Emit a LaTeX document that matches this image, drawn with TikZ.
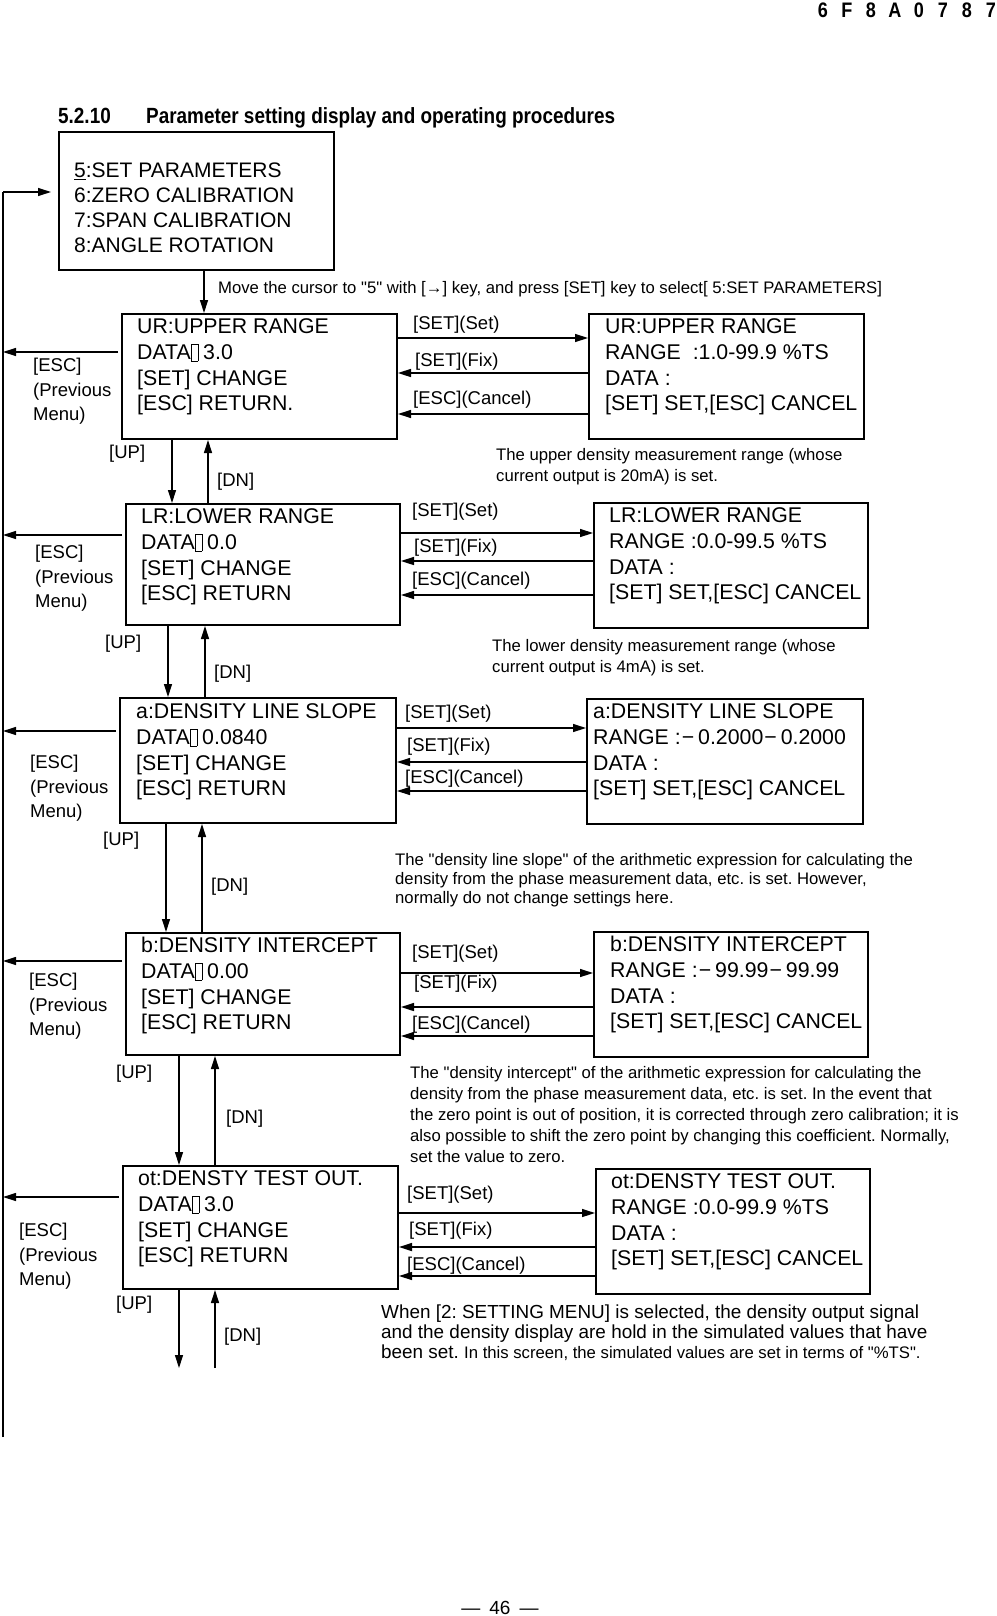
\documentclass[tikz,border=0pt]{standalone}
\usepackage{fontspec}
\setmainfont{Liberation Sans}[Ligatures=TeXOff]
\newfontfamily\condfont[FakeStretch=0.86]{Liberation Sans}
\usetikzlibrary{arrows.meta,calc}
\frenchspacing
% glyph the display could not print
\newcommand{\nochar}{\kern0.5pt\raisebox{-1.5pt}{\setlength{\fboxsep}{0pt}\setlength{\fboxrule}{0.7pt}\fbox{\rule{0pt}{16pt}\hspace{5.5pt}}}\hspace{5pt}}
\tikzset{
  scr/.style={draw, line width=2pt, anchor=north west, inner sep=0pt},
  scrtext/.style={anchor=base west, align=left, inner sep=0pt, font={\fontsize{21.3}{25.8}\selectfont}},
  keylbl/.style={anchor=base west, inner sep=0pt, font={\fontsize{18.5}{22}\selectfont}},
  esclbl/.style={anchor=base west, align=left, inner sep=0pt, font={\fontsize{18.5}{24.5}\selectfont}},
  note/.style={anchor=base west, align=left, inner sep=0pt, font={\fontsize{16.7}{21}\selectfont}},
  go/.style={line width=1.2pt, -{Triangle[length=13pt,width=8pt]}},
}
\begin{document}
\begin{tikzpicture}[x=1pt,y=-1pt]
			\useasboundingbox (0,0) rectangle (996,1616);
			% page head
			\foreach \c [count=\i from 0] in {6,F,8,A,0,7,8,7}{
				\node[font={\condfont\bfseries\fontsize{21}{21}\selectfont}, inner sep=0pt] (hd\i) at (823+24*\i,10) {\c};
			}
			\node[anchor=base west, inner sep=0pt, font={\condfont\bfseries\fontsize{22}{22}\selectfont}] (secno) at (58,124) {5.2.10};
			\node[anchor=base west, inner sep=0pt, font={\condfont\bfseries\fontsize{22}{22}\selectfont}] (title) at (146,124) {Parameter setting display and operating procedures};
			% menu
			\node[scr, minimum width=275, minimum height=138] (top) at (58,131) {};
			\node[scrtext, font={\fontsize{21}{25}\selectfont}] (toptext) at (74,252.5) {\underline{5}:SET PARAMETERS\\6:ZERO CALIBRATION\\7:SPAN CALIBRATION\\8:ANGLE ROTATION};
			\node[note] (movenote) at (218,293) {Move the cursor to "5" with [→] key, and press [SET] key to select[ 5:SET PARAMETERS]};
			% screens, left column
			\node[scr, minimum width=275, minimum height=125] (ur) at (121,313) {};
			\node[scr, minimum width=274, minimum height=121] (lr) at (125,503) {};
			\node[scr, minimum width=276, minimum height=125] (sl) at (119,697) {};
			\node[scr, minimum width=274, minimum height=122] (ic) at (125,932) {};
			\node[scr, minimum width=275, minimum height=123] (ot) at (122,1165) {};
			% screens, right column
			\node[scr, minimum width=275, minimum height=125] (urr) at (588,313) {};
			\node[scr, minimum width=274, minimum height=125] (lrr) at (593,502) {};
			\node[scr, minimum width=276, minimum height=125] (slr) at (586,698) {};
			\node[scr, minimum width=274, minimum height=125] (icr) at (593,931) {};
			\node[scr, minimum width=274, minimum height=125] (otr) at (595,1168) {};
			% screen texts (base = last line)
			\node[scrtext] (urtext) at ([shift={(16,97.9)}]ur.north west) {UR:UPPER RANGE\\DATA\nochar 3.0\\{[SET]} CHANGE\\{[ESC]} RETURN.};
			\node[scrtext] (lrtext) at ([shift={(16,97.9)}]lr.north west) {LR:LOWER RANGE\\DATA\nochar 0.0\\{[SET]} CHANGE\\{[ESC]} RETURN};
			\node[scrtext] (sltext) at ([shift={(17,98.9)}]sl.north west) {a:DENSITY LINE SLOPE\\DATA\nochar 0.0840\\{[SET]} CHANGE\\{[ESC]} RETURN};
			\node[scrtext] (ictext) at ([shift={(16,97.9)}]ic.north west) {b:DENSITY INTERCEPT\\DATA\nochar 0.00\\{[SET]} CHANGE\\{[ESC]} RETURN};
			\node[scrtext] (ottext) at ([shift={(16,97.9)}]ot.north west) {ot:DENSTY TEST OUT.\\DATA\nochar 3.0\\{[SET]} CHANGE\\{[ESC]} RETURN};
			\node[scrtext] (urrtext) at ([shift={(17,97.9)}]urr.north west) {UR:UPPER RANGE\\RANGE\ \ :1.0-99.9 \%TS\\DATA :\\{[SET]} SET,[ESC] CANCEL};
			\node[scrtext] (lrrtext) at ([shift={(16,97.9)}]lrr.north west) {LR:LOWER RANGE\\RANGE :0.0-99.5 \%TS\\DATA :\\{[SET]} SET,[ESC] CANCEL};
			\node[scrtext] (slrtext) at ([shift={(7,97.9)}]slr.north west) {a:DENSITY LINE SLOPE\\RANGE :\kern1pt−\kern4pt0.2000\kern1pt−\kern4pt0.2000\\DATA :\\{[SET]} SET,[ESC] CANCEL};
			\node[scrtext] (icrtext) at ([shift={(17,97.9)}]icr.north west) {b:DENSITY INTERCEPT\\RANGE :\kern1pt−\kern4pt99.99\kern1pt−\kern4pt99.99\\DATA :\\{[SET]} SET,[ESC] CANCEL};
			\node[scrtext] (otrtext) at ([shift={(16,97.9)}]otr.north west) {ot:DENSTY TEST OUT.\\RANGE :0.0-99.9 \%TS\\DATA :\\{[SET]} SET,[ESC] CANCEL};
			% set / fix / cancel between the columns
			\foreach \l/\r/\s/\f/\k in {ur/urr/25/60/101, lr/lrr/30/58/92, sl/slr/31/65/94, ic/icr/41/75/104, ot/otr/48/82/111}{
				\draw[go, line width=1.4pt] ([shift={(0,\s)}]\l.north east) coordinate (setpt\l) -- (setpt\l -| \r.west);
				\path ([shift={(0,\f)}]\l.north east) coordinate (fixpt\l);
				\draw[go, line width=1.6pt] (fixpt\l -| \r.west) -- (fixpt\l);
				\path ([shift={(0,\k)}]\l.north east) coordinate (canpt\l);
				\draw[go] (canpt\l -| \r.west) -- (canpt\l);
			}
			\foreach \l/\x/\a/\b/\c in {ur/413/329.6/366.6/404.6, lr/412/516.6/552.6/585.6, sl/405/718.6/751.6/783.6, ic/412/958.6/988.6/1029.6, ot/407/1199.6/1235.6/1270.6}{
				\node[keylbl] (set\l) at (\x,\a) {[SET](Set)};
				\node[keylbl] (fix\l) at (\x+2,\b) {[SET](Fix)};
				\node[keylbl] (can\l) at (\x,\c) {[ESC](Cancel)};
			}
			% up / dn
			\draw[go] ([shift={(146,0)}]top.south west) coordinate (m0) -- (m0 |- ur.north);
			\draw[go] ([shift={(51,0)}]ur.south west) coordinate (u1) -- (u1 |- lr.north);
			\path ([shift={(87,0)}]ur.south west) coordinate (d1);
			\draw[go] (d1 |- lr.north) -- (d1);
			\draw[go] ([shift={(43,0)}]lr.south west) coordinate (u2) -- (u2 |- sl.north);
			\path ([shift={(80,0)}]lr.south west) coordinate (d2);
			\draw[go] (d2 |- sl.north) -- (d2);
			\draw[go] ([shift={(47,0)}]sl.south west) coordinate (u3) -- (u3 |- ic.north);
			\path ([shift={(83,0)}]sl.south west) coordinate (d3);
			\draw[go] (d3 |- ic.north) -- (d3);
			\draw[go] ([shift={(54,0)}]ic.south west) coordinate (u4) -- (u4 |- ot.north);
			\path ([shift={(90,0)}]ic.south west) coordinate (d4);
			\draw[go] (d4 |- ot.north) -- (d4);
			\coordinate (tail) at (0,1368);
			\draw[go] ([shift={(57,0)}]ot.south west) coordinate (u5) -- (u5 |- tail);
			\path ([shift={(93,0)}]ot.south west) coordinate (d5);
			\draw[go] (d5 |- tail) -- (d5);
			\foreach \i/\x/\y in {1/109/458.6, 2/105/648.6, 3/103/845.6, 4/116/1078.6, 5/116/1309.6}
				\node[keylbl] (up\i) at (\x,\y) {[UP]};
			\foreach \i/\x/\y in {1/217/486.6, 2/214/678.6, 3/211/891.6, 4/226/1123.6, 5/224/1341.6}
				\node[keylbl] (dn\i) at (\x,\y) {[DN]};
			% esc back to the menu
			\coordinate (railtop) at (3,192);
			\coordinate (railbot) at (3,1437);
			\draw[line width=1.2pt] (railbot) -- (railtop);
			\draw[go, shorten >=7pt] (railtop) -- (railtop -| top.west);
			\foreach \l/\y in {ur/39, lr/32, sl/34, ic/29, ot/32}{
				\draw[go] ([shift={(-3,\y)}]\l.north west) coordinate (escpt\l) -- (escpt\l -| railtop);
			}
			\node[esclbl] (esc1) at (33,420.6) {[ESC]\\(Previous\\Menu)};
			\node[esclbl] (esc2) at (35,607.6) {[ESC]\\(Previous\\Menu)};
			\node[esclbl] (esc3) at (30,817.6) {[ESC]\\(Previous\\Menu)};
			\node[esclbl] (esc4) at (29,1035.6) {[ESC]\\(Previous\\Menu)};
			\node[esclbl] (esc5) at (19,1285.6) {[ESC]\\(Previous\\Menu)};
			% notes
			\node[note] (urnote) at (496,481.5) {The upper density measurement range (whose\\current output is 20mA) is set.};
			\node[note] (lrnote) at (492,672.5) {The lower density measurement range (whose\\current output is 4mA) is set.};
			\node[note, font={\fontsize{16.7}{19}\selectfont}] (slnote) at (395,903.5) {The "density line slope" of the arithmetic expression for calculating the\\density from the phase measurement data, etc. is set. However,\\normally do not change settings here.};
			\node[note] (icnote) at (410,1162.5) {The "density intercept" of the arithmetic expression for calculating the\\density from the phase measurement data, etc. is set. In the event that\\the zero point is out of position, it is corrected through zero calibration; it is\\also possible to shift the zero point by changing this coefficient. Normally,\\set the value to zero.};
			\node[note, font={\fontsize{18.9}{20}\selectfont}] (otnote) at (381,1358.8) {When [2: SETTING MENU] is selected, the density output signal\\and the density display are hold in the simulated values that have\\been set. {\fontsize{16.7}{20}\selectfont In this screen, the simulated values are set in terms of "\%TS".}};
			% page foot
			\node[inner sep=0pt, font={\fontsize{19}{19}\selectfont}] (pageno) at (500,1608) {—\hspace{9pt}46\hspace{9pt}—};
\end{tikzpicture}
\end{document}
